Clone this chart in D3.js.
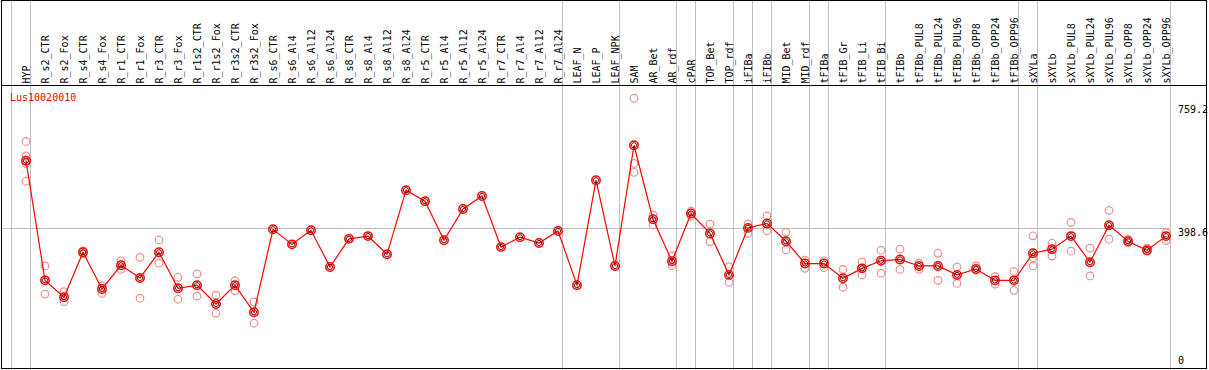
<!DOCTYPE html>
<html>
<head>
<meta charset="utf-8">
<script src="https://cdn.jsdelivr.net/npm/d3@7"></script>
<style>
    body { margin: 0; background: #fff; }
    svg { display: block; }
    .lbl { font-family: 'DejaVu Sans Mono', monospace; font-size: 10px; }
</style>
</head>
<body>
<div id="chart"></div>
<script>
'use strict';

let geneName = 'Lus10020010';

let samples = [
    'HYP', 'R_s2_CTR', 'R_s2_Fox', 'R_s4_CTR', 'R_s4_Fox', 'R_r1_CTR', 'R_r1_Fox', 'R_r3_CTR', 'R_r3_Fox',
    'R_r1s2_CTR', 'R_r1s2_Fox', 'R_r3s2_CTR', 'R_r3s2_Fox', 'R_s6_CTR', 'R_s6_Al4', 'R_s6_Al12', 'R_s6_Al24',
    'R_s8_CTR', 'R_s8_Al4', 'R_s8_Al12', 'R_s8_Al24', 'R_r5_CTR', 'R_r5_Al4', 'R_r5_Al12', 'R_r5_Al24',
    'R_r7_CTR', 'R_r7_Al4', 'R_r7_Al12', 'R_r7_Al24', 'LEAF_N', 'LEAF_P', 'LEAF_NPK', 'SAM', 'AR_Bet', 'AR_rdf',
    'cPAR', 'TOP_Bet', 'TOP_rdf', 'iFIBa', 'iFIBb', 'MID_Bet', 'MID_rdf', 'tFIBa', 'tFIB_Gr', 'tFIB_Li', 'tFIB_Bi',
    'tFIBb', 'tFIBb_PUL8', 'tFIBb_PUL24', 'tFIBb_PUL96', 'tFIBb_OPP8', 'tFIBb_OPP24', 'tFIBb_OPP96',
    'sXYLa', 'sXYLb', 'sXYLb_PUL8', 'sXYLb_PUL24', 'sXYLb_PUL96', 'sXYLb_OPP8', 'sXYLb_OPP24', 'sXYLb_OPP96'
];

// mean expression per sample (the red line)
let meanValues = [
    594, 245, 196, 327, 220, 289, 252, 327, 222, 231, 176, 231, 152, 394, 350, 391, 284,
    366, 374, 321, 508, 476, 362, 453, 491, 342, 371, 354, 389, 231, 537, 287, 639, 423, 301,
    440, 382, 261, 398, 411, 359, 294, 294, 251, 280, 302, 306, 287, 287, 261, 278, 245, 245,
    324, 336, 374, 298, 406, 359, 333, 374
];

// individual replicates (pink circles), empty where none are shown
let replicates = [
    [650, 608, 586, 534], [287, 205], [212, 183], [331, 322], [229, 207], [302, 277], [312, 193],
    [363, 295], [254, 190], [264, 199], [202, 149], [244, 215], [182, 120],
    [], [], [], [], [], [], [], [], [], [], [], [], [], [], [], [], [], [], [],
    [776, 586, 560], [436, 406], [316, 288], [447, 432], [409, 358], [285, 239], [409, 382],
    [433, 390], [385, 334], [304, 280], [302, 282], [277, 225], [299, 261], [333, 266],
    [336, 277], [295, 277], [324, 245], [284, 236], [287, 275], [256, 234], [271, 216],
    [375, 311, 287], [353, 316], [414, 330], [339, 258], [449, 365], [365, 355], [339, 331], [384, 361]
];

// sample indices where a vertical separator is drawn (left edge of that column)
let groupBreaks = [0, 1, 29, 32, 35, 36, 38, 39, 40, 42, 43, 46, 53, 54, 61];

let axisTicks = [0, 398.6, 759.2];
let refLine = 398.6;

let width = 1209;
let height = 370;
let headerBottom = 85;
let plotLeft = 11;
let plotRight = 1170;
let pointOffset = 15;

let svg = d3.select('#chart').append('svg')
    .attr('width', width)
    .attr('height', height);

let x = d3.scaleBand()
    .domain(d3.range(samples.length + 1))
    .range([plotLeft, plotRight + (plotRight - plotLeft) / samples.length]);
let px = function (i) { return x(i) + pointOffset; };

let y = d3.scaleLinear()
    .domain([0, 759.2])
    .range([364.4, 104]);

// group separators
svg.selectAll('line.sep')
    .data(groupBreaks)
    .join('line')
    .attr('class', 'sep')
    .attr('x1', function (d) { return x(d) + 0.5; })
    .attr('x2', function (d) { return x(d) + 0.5; })
    .attr('y1', 0)
    .attr('y2', height)
    .attr('stroke', '#c0c0c0');

// reference line
svg.append('line')
    .attr('x1', 1)
    .attr('x2', plotRight)
    .attr('y1', Math.round(y(refLine)) + 0.5)
    .attr('y2', Math.round(y(refLine)) + 0.5)
    .attr('stroke', '#c0c0c0');

// frame and header separator
svg.append('rect')
    .attr('x', 1.5).attr('y', 0.5)
    .attr('width', 1205).attr('height', 368)
    .attr('fill', 'none')
    .attr('stroke', '#000');
svg.append('line')
    .attr('x1', 1).attr('x2', 1207)
    .attr('y1', headerBottom + 0.5).attr('y2', headerBottom + 0.5)
    .attr('stroke', '#000');

// sample labels, rotated
svg.selectAll('text.sample')
    .data(samples)
    .join('text')
    .attr('class', 'lbl sample')
    .attr('transform', function (d, i) {
        return 'translate(' + (px(i) + 3.5) + ',' + (headerBottom - 1.5) + ')rotate(-90)';
    })
    .attr('fill', '#000')
    .text(function (d) { return d; });

// gene name
svg.append('text')
    .attr('class', 'lbl')
    .attr('x', 10)
    .attr('y', 101)
    .attr('fill', '#ff0000')
    .text(geneName);

// right axis labels
svg.selectAll('text.tick')
    .data(axisTicks)
    .join('text')
    .attr('class', 'lbl tick')
    .attr('x', 1178)
    .attr('y', function (d) { return d === 0 ? y(d) : y(d) + 8.5; })
    .attr('fill', '#000')
    .text(function (d) { return d; });

// replicate points
let reps = [];
replicates.forEach(function (vals, i) {
    vals.forEach(function (v) { reps.push({i: i, v: v}); });
});
svg.selectAll('circle.rep')
    .data(reps)
    .join('circle')
    .attr('class', 'rep')
    .attr('cx', function (d) { return px(d.i); })
    .attr('cy', function (d) { return y(d.v); })
    .attr('r', 3.8)
    .attr('fill', 'none')
    .attr('stroke', '#ee9090')
    .attr('stroke-width', 1.2);

// mean line
let line = d3.line()
    .x(function (d, i) { return px(i); })
    .y(function (d) { return y(d); });

svg.append('path')
    .datum(meanValues)
    .attr('d', line)
    .attr('fill', 'none')
    .attr('stroke', '#ff0000')
    .attr('stroke-width', 1.2);

let marks = svg.selectAll('g.mean')
    .data(meanValues)
    .join('g')
    .attr('class', 'mean')
    .attr('transform', function (d, i) { return 'translate(' + px(i) + ',' + y(d) + ')'; });

marks.append('circle')
    .attr('r', 4.2)
    .attr('fill', 'none')
    .attr('stroke', '#ff0000')
    .attr('stroke-width', 1.5);

marks.append('circle')
    .attr('r', 2.6)
    .attr('fill', 'none')
    .attr('stroke', '#500000')
    .attr('stroke-width', 0.9);
</script>
</body>
</html>
